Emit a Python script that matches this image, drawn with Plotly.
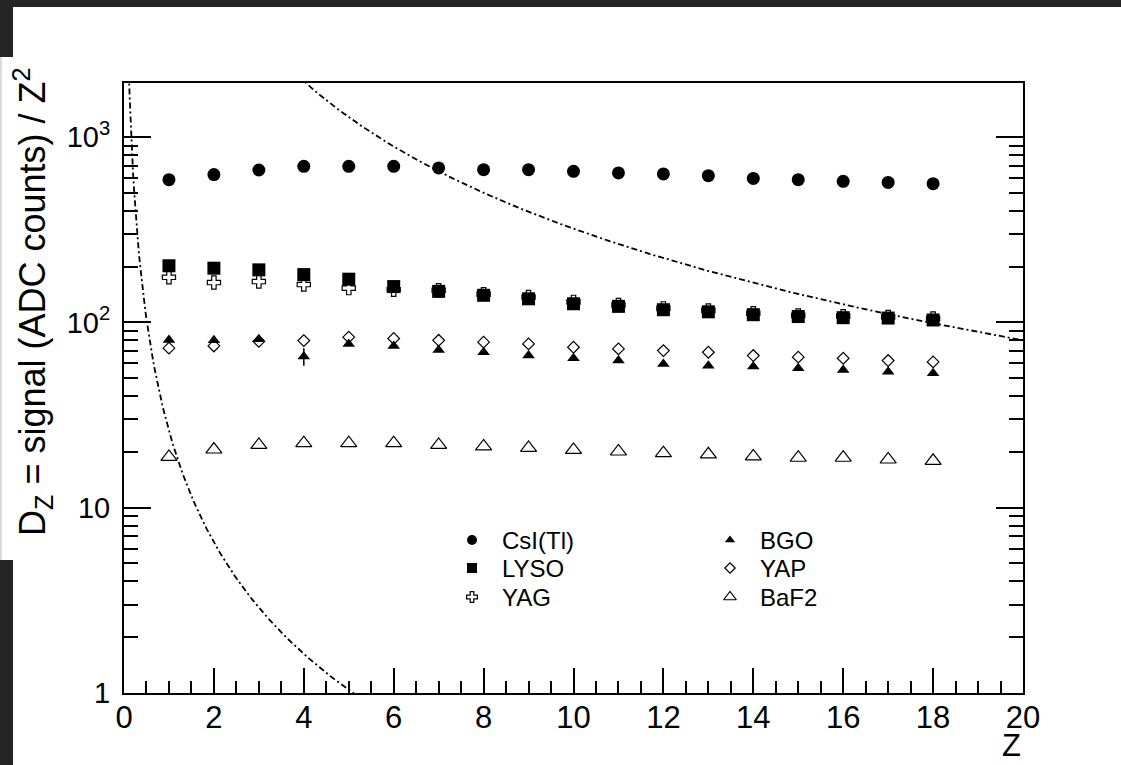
import numpy as np
import plotly.graph_objects as go

# Charge number of the ion
Z = list(range(1, 19))

# D_Z = signal / Z^2 (ADC counts) for each crystal
csi = [589, 627, 664, 695, 695, 695, 681, 667, 667, 653, 640, 632, 619, 598, 589, 577, 569, 560]
lyso = [202, 196, 192, 181, 171, 156, 147, 140, 134, 126, 122, 117, 114, 110, 107.5, 106, 105.5, 103]
yag = [175, 164, 166, 160, 153, 150, 149, 142, 137, 129, 124, 119, 116, 112, 109, 108, 107, 105]
bgo = [80.4, 80.0, 81.0, 65.4, 76.5, 74.6, 71.0, 69.0, 66.2, 64.0, 62.2, 59.7, 58.4, 57.7, 56.6, 55.4, 54.2, 53.2]
bgo_err = [0, 0, 0, 7, 0, 0, 0, 0, 0, 0, 0, 0, 0, 0, 0, 0, 0, 0]
yap = [72.6, 74.6, 79.0, 79.7, 83.2, 81.8, 80.0, 78.2, 76.5, 73.4, 71.9, 70.4, 69.0, 66.2, 64.9, 64.0, 62.2, 61.2]
baf2 = [18.8, 20.6, 21.8, 22.3, 22.3, 22.3, 21.8, 21.4, 21.0, 20.5, 20.1, 19.7, 19.4, 18.9, 18.6, 18.6, 18.2, 17.9]

# Signal limits (ADC counts): lower threshold and saturation; D = S / Z^2
signal_min = 26
signal_max = 32000

x_ticks = list(range(0, 21, 2))
y_ticks = [1, 10, 100, 1000]
y_tick_text = ["1", "10", "10<sup>2</sup>", "10<sup>3</sup>"]
y_minor = [m * 10 ** e for e in range(0, 3) for m in range(2, 10)]

W, H = 1121, 765
ML, MR, MT, MB = 124, 98, 83, 72
PW, PH = W - ML - MR, H - MT - MB

FONT = "Liberation Sans, Arial, Helvetica, sans-serif"
BLACK = "#000000"

fig = go.Figure()

# Limit curves
zc = np.linspace(0.05, 20, 800)
line_style = dict(color=BLACK, width=1.8, dash="6px,3px,2px,3px")
fig.add_trace(go.Scatter(x=zc, y=signal_min / zc**2, mode="lines", line=line_style,
                         showlegend=False, hoverinfo="skip"))
fig.add_trace(go.Scatter(x=zc, y=signal_max / zc**2, mode="lines", line=line_style,
                         showlegend=False, hoverinfo="skip"))

# Marker styles: (symbol, size in plot, size in legend, fill, outline width)
styles = {
    "CsI(Tl)": ("circle", 13, 10, BLACK, 0),
    "LYSO": ("square", 13, 10, BLACK, 0),
    "YAG": ("cross", 11, 9, "white", 1.2),
    "BGO": ("triangle-up", 11, 9, BLACK, 0),
    "YAP": ("diamond", 9, 8, "white", 1.2),
    "BaF2": ("triangle-up", 14, 11, "white", 1.2),
}


def add_series(name, values, err=None):
    symbol, size, _, fill, lw = styles[name]
    kw = {}
    if err is not None:
        kw["error_y"] = dict(type="data", array=err, visible=True, width=0,
                             thickness=1.5, color=BLACK)
    fig.add_trace(go.Scatter(
        x=Z, y=values, mode="markers", name=name, showlegend=False,
        marker=dict(symbol=symbol, size=size, color=fill,
                    line=dict(color=BLACK, width=lw)),
        cliponaxis=False, **kw))


# Drawing order controls overlaps between neighbouring series
add_series("CsI(Tl)", csi)
add_series("YAG", yag)
add_series("LYSO", lyso)
add_series("YAP", yap)
add_series("BGO", bgo, err=bgo_err)
add_series("BaF2", baf2)

# Legend block, laid out in pixel units on an overlay axis pair
legend_layout = [
    ("CsI(Tl)", 472, 540), ("LYSO", 472, 568), ("YAG", 472, 597),
    ("BGO", 730, 540), ("YAP", 730, 568), ("BaF2", 730, 597),
]
annotations = []
for name, lx, ly in legend_layout:
    symbol, _, lsize, fill, lw = styles[name]
    fig.add_trace(go.Scatter(
        x=[lx], y=[ly], xaxis="x2", yaxis="y2", mode="markers", showlegend=False,
        hoverinfo="skip", cliponaxis=False,
        marker=dict(symbol=symbol, size=lsize, color=fill,
                    line=dict(color=BLACK, width=lw))))
    annotations.append(dict(
        text=name, xref="x2", yref="y2", x=lx, y=ly, xanchor="left", yanchor="middle",
        xshift=28, showarrow=False, font=dict(family=FONT, size=24, color=BLACK)))

annotations += [
    dict(text="D<sub>Z</sub> = signal (ADC counts) / Z<sup>2</sup>",
         textangle=-90, xref="paper", yref="paper", x=0, y=(MT + PH - 302) / PH,
         xanchor="center", yanchor="middle", xshift=32 - ML, showarrow=False,
         font=dict(family=FONT, size=36, color=BLACK)),
    dict(text="Z", xref="paper", yref="paper", x=1, y=0, xanchor="right",
         yanchor="middle", yshift=-52, showarrow=False,
         font=dict(family=FONT, size=31, color=BLACK)),
]


def frame_rect(x0, x1, y0, y1, color):
    # rectangle given in canvas pixels (origin top-left)
    return dict(type="rect", xref="paper", yref="paper", xsizemode="pixel",
                ysizemode="pixel", xanchor=0, yanchor=1,
                x0=x0 - ML, x1=x1 - ML, y0=MT - y0, y1=MT - y1,
                fillcolor=color, line_width=0, layer="above")


fig.update_layout(
    width=W, height=H,
    margin=dict(l=ML, r=MR, t=MT, b=MB, pad=0),
    paper_bgcolor="white", plot_bgcolor="white",
    font=dict(family=FONT, color=BLACK),
    showlegend=False,
    xaxis=dict(
        range=[0, 20], tickmode="array", tickvals=x_ticks,
        ticks="inside", ticklen=25, tickwidth=1.5, tickcolor=BLACK,
        minor=dict(dtick=0.5, tick0=0, ticks="inside", ticklen=12,
                   tickwidth=1.5, tickcolor=BLACK, showgrid=False),
        showline=True, linewidth=2, linecolor=BLACK, mirror=True,
        showgrid=False, zeroline=False,
        tickfont=dict(family=FONT, size=31, color=BLACK),
        ticklabelstandoff=-4,
    ),
    yaxis=dict(
        type="log", range=[0, 3.2916], tickmode="array",
        tickvals=y_ticks, ticktext=y_tick_text,
        ticks="inside", ticklen=27, tickwidth=1.5, tickcolor=BLACK,
        minor=dict(tickmode="array", tickvals=y_minor, ticks="inside",
                   ticklen=14, tickwidth=1.5, tickcolor=BLACK, showgrid=False),
        showline=True, linewidth=2, linecolor=BLACK, mirror="allticks",
        showgrid=False, zeroline=False,
        tickfont=dict(family=FONT, size=29, color=BLACK),
        ticklabelstandoff=6,
    ),
    xaxis2=dict(overlaying="x", range=[ML, W - MR], visible=False, fixedrange=True),
    yaxis2=dict(overlaying="y", range=[MT + PH, MT], visible=False, fixedrange=True),
    annotations=annotations,
    shapes=[
        frame_rect(0, W, 0, 7, "#252525"),
        frame_rect(0, 13, 0, 57, "#252525"),
        frame_rect(0, 13, 560, H, "#252525"),
        frame_rect(0, 2, 57, 560, "#dcdcdc"),
    ],
)

fig.write_html("out.html")
